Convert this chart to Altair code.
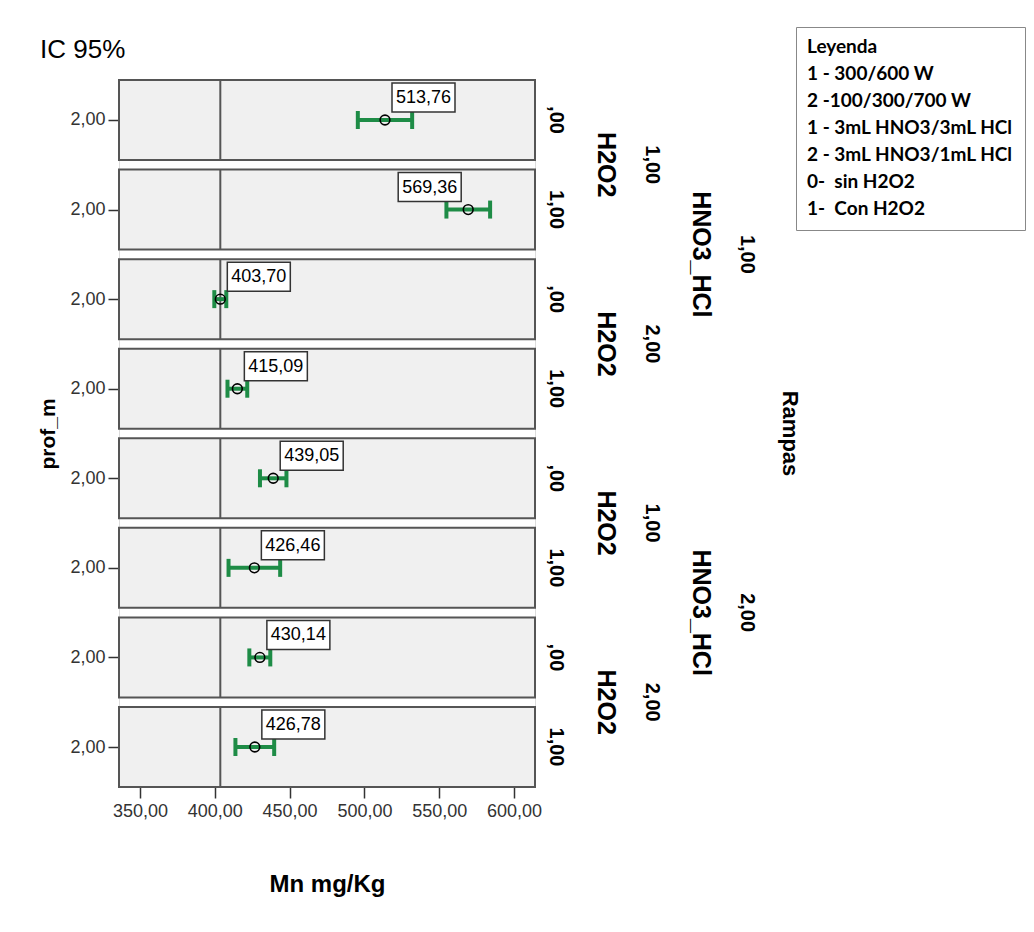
import altair as alt
import pandas as pd

# ---------------- data ----------------
rampas = [1, 1, 1, 1, 2, 2, 2, 2]
hno3_hcl = [1, 1, 2, 2, 1, 1, 2, 2]
h2o2 = [0, 1, 0, 1, 0, 1, 0, 1]
prof_m = [2.0, 2.0, 2.0, 2.0, 2.0, 2.0, 2.0, 2.0]
mn_mean = [513.76, 569.36, 403.70, 415.09, 439.05, 426.46, 430.14, 426.78]
ci_low = [495.6, 554.8, 399.7, 408.5, 430.2, 409.2, 423.1, 413.8]
ci_high = [531.9, 584.0, 407.7, 421.7, 447.9, 443.7, 437.1, 439.7]
ref_value = 403.70
x_ticks = [350, 400, 450, 500, 550, 600]
chart_title = "IC 95%"
legend_title = "Leyenda"
legend_lines = [
    "1 - 300/600 W",
    "2 -100/300/700 W",
    "1 - 3mL HNO3/3mL HCl",
    "2 - 3mL HNO3/1mL HCl",
    "0-\u00a0 sin H2O2",
    "1-\u00a0 Con H2O2",
]

# ---------------- layout / style ----------------
W, H = 416, 707
XMIN, XMAX = 336, 614
PANEL = 0.893           # fraction of each row step filled by a panel
GREEN = "#1e8c46"
FONT = "Liberation Sans"
BOX_OFF, BOX_W = 7, 63


def fmt(v):
    s = f"{v:.2f}".replace(".", ",")
    return s[1:] if s.startswith("0,") else s


n = len(mn_mean)
df = pd.DataFrame(dict(rampas=rampas, hno3=hno3_hcl, h2o2=h2o2, prof=prof_m,
                       mean=mn_mean, lo=ci_low, hi=ci_high))
df["top"] = list(range(n))
df["bot"] = df["top"] + PANEL
df["cy"] = df["top"] + PANEL / 2
df["ref"] = ref_value
df["label"] = df["mean"].map(fmt)
px_per = W / (XMAX - XMIN)
df["fits"] = ((df["mean"] - XMIN) * px_per + BOX_OFF + BOX_W) <= W

# nested row labels at right
lv = []
for _, r in df.iterrows():
    lv.append(dict(col=0, y=r["cy"], text=fmt(r["h2o2"]), size=20))
for (ra, hn), g in df.groupby(["rampas", "hno3"]):
    lv.append(dict(col=1, y=g["cy"].mean(), text="H2O2", size=25))
    lv.append(dict(col=2, y=g["cy"].mean(), text=fmt(hn), size=20))
for ra, g in df.groupby("rampas"):
    lv.append(dict(col=3, y=g["cy"].mean(), text="HNO3_HCl", size=25))
    lv.append(dict(col=4, y=g["cy"].mean(), text=fmt(ra), size=20))
lv.append(dict(col=5, y=df["cy"].mean(), text="Rampas", size=22))
lab_df = pd.DataFrame(lv)
col_x = [437, 487, 533, 582, 628, 671]

yscale = alt.Scale(domain=[0, n - 1 + PANEL], reverse=True, nice=False, zero=False)
xscale = alt.Scale(domain=[XMIN, XMAX], nice=False, zero=False)

xaxis = alt.Axis(values=x_ticks, labelExpr="replace(format(datum.value, '.2f'), '.', ',')",
                 title="Mn mg/Kg", titleFont=FONT, titleFontSize=24, titleFontWeight="bold",
                 titleColor="black", titlePadding=52, labelFont=FONT, labelFontSize=18,
                 labelColor="#333", labelPadding=4, tickSize=11, tickWidth=1.5,
                 tickColor="#333", domain=False, grid=False)
yaxis = alt.Axis(values=list(df["cy"]), labelExpr="'" + fmt(prof_m[0]) + "'",
                 title="prof_m", titleFont=FONT, titleFontSize=21, titleFontWeight="bold",
                 titleColor="black", titlePadding=11, labelFont=FONT, labelFontSize=18,
                 labelColor="#333", labelPadding=3, tickSize=11, tickWidth=1.5,
                 tickColor="#333", domain=False, grid=False)


def X(f):
    return alt.X(f + ":Q", scale=xscale, axis=xaxis)


def Y(f):
    return alt.Y(f + ":Q", scale=yscale, axis=yaxis)


base = alt.Chart(df)

panels = base.mark_rect(fill="#f0f0f0", stroke="#555", strokeWidth=2).encode(
    x=alt.value(0), x2=alt.value(W), y=Y("top"), y2="bot")

ref = base.mark_rule(color="#555", strokeWidth=2).encode(x=X("ref"), y=Y("top"), y2="bot")

bars = base.mark_rule(color=GREEN, strokeWidth=4).encode(x=X("lo"), x2="hi", y=Y("cy"))
cap_lo = base.mark_tick(orient="vertical", color=GREEN, size=18, thickness=4, opacity=1).encode(
    x=X("lo"), y=Y("cy"))
cap_hi = base.mark_tick(orient="vertical", color=GREEN, size=18, thickness=4, opacity=1).encode(
    x=X("hi"), y=Y("cy"))
pts = base.mark_point(shape="circle", filled=False, color="black", strokeWidth=1.6,
                      size=95, opacity=1).encode(x=X("mean"), y=Y("cy"))

right = base.transform_filter("datum.fits")
left = base.transform_filter("!datum.fits")

box_r = right.mark_rect(fill="white", stroke="#333", strokeWidth=1.5,
                        xOffset=BOX_OFF, x2Offset=BOX_OFF + BOX_W, yOffset=-37, y2Offset=-8).encode(
    x=X("mean"), x2="mean", y=Y("cy"), y2="cy")
txt_r = right.mark_text(font=FONT, fontSize=18, color="black", align="center", baseline="middle",
                        dx=BOX_OFF + BOX_W / 2, dy=-22).encode(x=X("mean"), y=Y("cy"), text="label:N")
box_l = left.mark_rect(fill="white", stroke="#333", strokeWidth=1.5,
                       xOffset=-BOX_OFF - BOX_W, x2Offset=-BOX_OFF, yOffset=-37, y2Offset=-8).encode(
    x=X("mean"), x2="mean", y=Y("cy"), y2="cy")
txt_l = left.mark_text(font=FONT, fontSize=18, color="black", align="center", baseline="middle",
                       dx=-BOX_OFF - BOX_W / 2, dy=-22).encode(x=X("mean"), y=Y("cy"), text="label:N")

lab_layers = []
for c, xp in enumerate(col_x):
    sub = lab_df[lab_df["col"] == c]
    lab_layers.append(
        alt.Chart(sub).mark_text(font=FONT, fontSize=int(sub["size"].iloc[0]),
                                 fontWeight="bold", color="black",
                                 angle=90, align="center", baseline="middle").encode(
            x=alt.value(xp), y=Y("y"), text="text:N"))

title_layer = alt.Chart(pd.DataFrame({"t": [chart_title]})).mark_text(
    font=FONT, fontSize=26, color="black", align="left", baseline="alphabetic").encode(
    x=alt.value(-79), y=alt.value(-22), text="t:N")

leg_df = pd.DataFrame({"line": legend_lines})
legend_layer = alt.Chart(leg_df).mark_point(opacity=0).encode(
    color=alt.Color("line:N", sort=legend_lines,
                    scale=alt.Scale(domain=legend_lines, range=["white"] * len(legend_lines)),
                    legend=alt.Legend(title=legend_title, orient="none", legendX=677, legendY=-53,
                                      titleFont="Lato", titleFontSize=19, titleFontWeight="bold",
                                      titleColor="black", titlePadding=7,
                                      labelFont="Lato", labelFontSize=19, labelFontWeight="bold",
                                      labelColor="black", labelLimit=400,
                                      labelOffset={"expr": "-19"},
                                      symbolSize=0, symbolStrokeWidth=0, symbolOpacity=0,
                                      rowPadding=7, padding=11, strokeColor="#888",
                                      fillColor="white")))

chart = alt.layer(panels, ref, bars, cap_lo, cap_hi, pts, box_r, txt_r, box_l, txt_l,
                  *lab_layers, title_layer, legend_layer).properties(
    width=W, height=H,
    padding={"left": 111, "top": 72, "right": 491, "bottom": 115},
    autosize=alt.AutoSizeParams(type="none"),
).configure_view(stroke=None).configure(background="white")

chart.save("out.html", embed_options={"renderer": "svg", "actions": False})
